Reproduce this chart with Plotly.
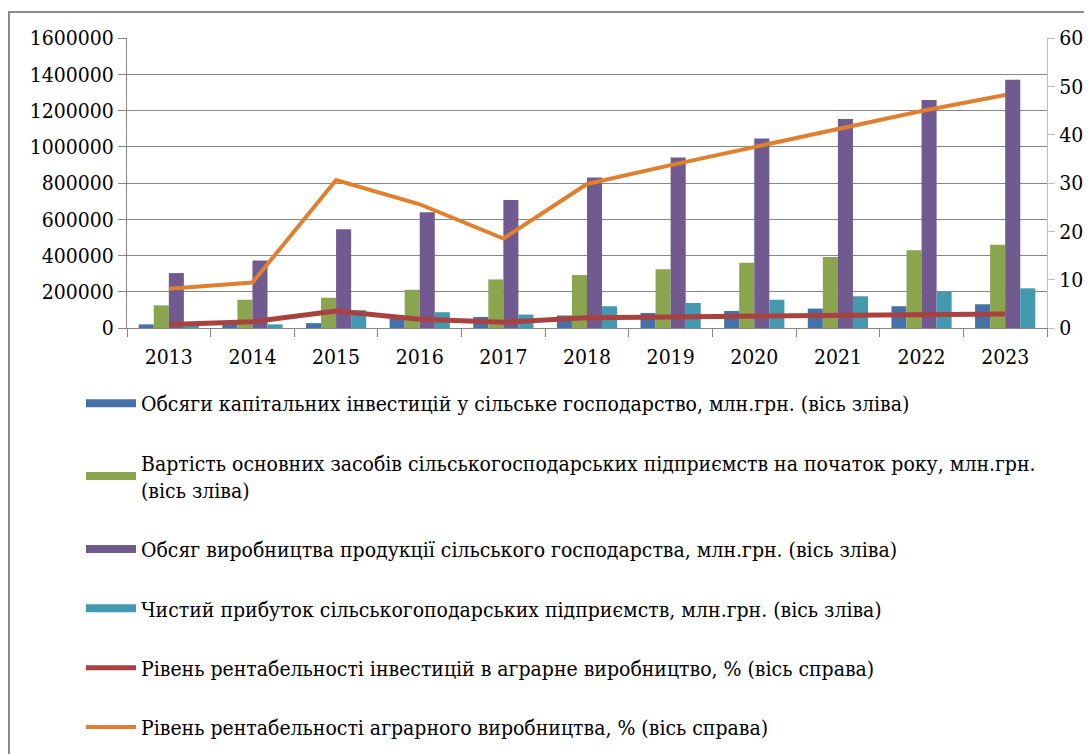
import plotly.graph_objects as go

years = ["2013", "2014", "2015", "2016", "2017", "2018", "2019", "2020", "2021", "2022", "2023"]

capital_investment = [20000, 26000, 27000, 52000, 61000, 69000, 83000, 94000, 107000, 120000, 131000]
fixed_assets = [125000, 156000, 167000, 211000, 268000, 292000, 324000, 360000, 392000, 429000, 460000]
production = [303000, 373000, 545000, 638000, 706000, 831000, 941000, 1046000, 1153000, 1258000, 1370000]
net_profit = [10000, 20000, 98000, 87000, 74000, 120000, 138000, 156000, 175000, 199000, 219000]
invest_profitability = [0.7, 1.3, 3.5, 1.8, 1.2, 2.1, 2.3, 2.5, 2.6, 2.75, 2.9]
agri_profitability = [8.1, 9.4, 30.6, 25.6, 18.5, 29.8, 33.7, 37.4, 41.2, 44.9, 48.2]

names = [
    "Обсяги капітальних інвестицій у сільське господарство, млн.грн. (вісь зліва)",
    "Вартість основних засобів сільськогосподарських підприємств на початок року, млн.грн.<br>(вісь зліва)",
    "Обсяг виробництва продукції сільського господарства, млн.грн. (вісь зліва)",
    "Чистий прибуток сільськогоподарських підприємств, млн.грн. (вісь зліва)",
    "Рівень рентабельності інвестицій в аграрне виробництво, % (вісь справа)",
    "Рівень рентабельності аграрного виробництва, % (вісь справа)",
]
colors = ["#4471A7", "#8AA54D", "#715A8F", "#4399B0", "#A8413F", "#E0802F"]

TICKFONT = "DejaVu Serif Condensed"
LEGFONT = "DejaVu Serif Condensed"

# page has an 8px body margin; figure is laid out in page coordinates minus 8
W, H = 1084, 746
OFF = 8

fig = go.Figure()

bar_data = [capital_investment, fixed_assets, production, net_profit]
for i, vals in enumerate(bar_data):
    fig.add_trace(go.Bar(
        x=years, y=vals, name=names[i], marker=dict(color=colors[i], line=dict(width=0)),
        showlegend=False, yaxis="y",
    ))

# legend entries for bars (wide rectangles like the original)
for i in range(4):
    fig.add_trace(go.Scatter(
        x=[None], y=[None], mode="lines", name=names[i],
        line=dict(color=colors[i], width=8), legendgroup=f"g{i}", legendrank=i + 1,
        hoverinfo="skip",
    ))

fig.add_trace(go.Scatter(
    x=years, y=invest_profitability, name=names[4], mode="lines",
    line=dict(color=colors[4], width=5), yaxis="y2", legendgroup="g4", legendrank=5,
))
fig.add_trace(go.Scatter(
    x=years, y=agri_profitability, name=names[5], mode="lines",
    line=dict(color=colors[5], width=4), yaxis="y2", legendgroup="g5", legendrank=6,
))

# plot area in page pixels: x 127..1047, y 38..328
L, R, T, B = 127 - OFF, 1047 - OFF, 38 - OFF, 328 - OFF
PW, PH = R - L, B - T

grid = "#868686"
fig.update_layout(
    width=W, height=H,
    margin=dict(l=L, r=W - R, t=T, b=H - B, autoexpand=False),
    paper_bgcolor="white", plot_bgcolor="white",
    font=dict(family=TICKFONT, size=21, color="black"),
    barmode="group", bargap=0.28, bargroupgap=0,
    xaxis=dict(
        type="category", showline=True, linecolor=grid, linewidth=1,
        ticks="outside", tickson="boundaries", ticklen=8, tickcolor=grid,
        tickfont=dict(family=TICKFONT, size=21), showgrid=False,
        ticklabelstandoff=10,
    ),
    yaxis=dict(
        range=[0, 1600000], dtick=200000, tickformat="d",
        showline=True, linecolor=grid, linewidth=1,
        ticks="outside", ticklen=8, tickcolor=grid,
        showgrid=True, gridcolor=grid, gridwidth=1, zeroline=False,
        tickfont=dict(family=TICKFONT, size=21),
    ),
    yaxis2=dict(
        range=[0, 60], dtick=10, overlaying="y", side="right",
        showline=True, linecolor="#bfbfbf", linewidth=1,
        ticks="outside", ticklen=7, tickcolor="#bfbfbf",
        showgrid=False, zeroline=False,
        tickfont=dict(family=TICKFONT, size=21),
    ),
    legend=dict(
        xref="container", yref="container", x=73 / W, y=1 - 375 / H,
        xanchor="left", yanchor="top", orientation="v",
        traceorder="grouped", tracegroupgap=29, itemwidth=50,
        font=dict(family=LEGFONT, size=21, color="black"),
        bgcolor="rgba(0,0,0,0)",
    ),
    shapes=[dict(
        type="rect", xref="paper", yref="paper",
        x0=(9 - 127) / PW, x1=(1110 - 127) / PW,
        y0=(328 - 770) / PH, y1=1 + 26 / PH,
        line=dict(color="#8a8a8a", width=2), fillcolor="rgba(0,0,0,0)", layer="below",
    )],
)

fig.write_html("out.html")
